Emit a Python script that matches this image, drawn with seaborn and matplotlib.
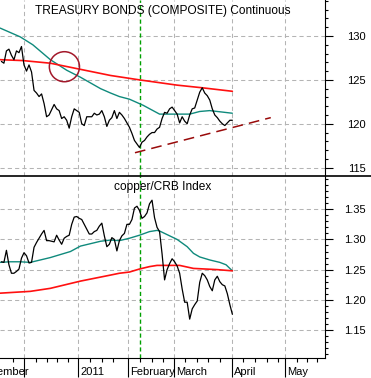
import numpy as np
import pandas as pd
import matplotlib
matplotlib.use("Agg")
import matplotlib.pyplot as plt
import seaborn as sns
from matplotlib.patches import Ellipse
from matplotlib.lines import Line2D
from matplotlib.ticker import FixedLocator, MultipleLocator, FormatStrFormatter
import matplotlib.transforms as mtransforms

# ---------------- data (x = trading-day index, 0 = 1 Dec 2010) ----------------
bond_close = [127.1, 126.9, 128.3, 128.5, 127.8, 127.3, 128.3, 128.1, 128.8,
              126.7, 126.0, 126.7, 125.9, 123.8, 123.5, 123.1, 123.4, 122.3, 120.8,
              121.0, 121.6, 122.2, 121.7, 121.5, 120.6, 120.8, 120.4, 119.5, 120.8,
              121.7, 121.5, 121.3, 120.0, 119.8, 120.8, 120.8, 120.8, 121.2, 121.0,
              121.1, 121.5, 120.8, 119.7, 120.4, 120.7, 121.5, 120.6, 121.3, 121.0,
              120.6, 120.1, 119.6, 118.9, 118.1, 117.7, 117.3, 117.9, 118.1, 118.5,
              118.8, 119.0, 119.0, 119.4, 119.6, 120.6, 121.3, 121.2, 121.7, 121.9,
              121.5, 121.1, 120.1, 120.8, 120.3, 120.0, 121.0, 121.7, 121.8, 122.7,
              123.6, 124.1, 123.5, 123.2, 122.7, 121.7, 121.0, 120.7, 120.3, 120.0,
              119.8, 120.1, 120.4, 120.4]
copper_crb = [1.263, 1.262, 1.282, 1.258, 1.244, 1.244, 1.247, 1.251, 1.269,
              1.278, 1.273, 1.261, 1.262, 1.287, 1.295, 1.302, 1.309, 1.315, 1.298,
              1.298, 1.297, 1.296, 1.307, 1.299, 1.292, 1.302, 1.305, 1.307, 1.325,
              1.337, 1.338, 1.335, 1.333, 1.325, 1.317, 1.309, 1.309, 1.313, 1.315,
              1.322, 1.327, 1.306, 1.288, 1.292, 1.303, 1.300, 1.281, 1.298, 1.306,
              1.310, 1.325, 1.325, 1.333, 1.352, 1.355, 1.348, 1.335, 1.338, 1.344,
              1.359, 1.365, 1.336, 1.320, 1.313, 1.276, 1.233, 1.250, 1.260, 1.268,
              1.263, 1.256, 1.244, 1.218, 1.196, 1.196, 1.168, 1.185, 1.192, 1.198,
              1.229, 1.244, 1.240, 1.233, 1.222, 1.215, 1.233, 1.239, 1.230, 1.225,
              1.223, 1.210, 1.192, 1.176]
first_day = -9
days = np.arange(first_day, first_day + len(bond_close))

bond_ma_short_days = [-9.5, -1.5, 3.5, 10.5, 17, 22.5, 30.5, 34.5, 38, 42, 47.5, 54, 61, 66, 70, 74, 83]
bond_ma_short = [130.9, 129.9, 129.0, 127.3, 126.1, 125.3, 124.0, 123.5, 123.1, 122.8, 122.1,
                 121.1, 121.1, 121.1, 121.4, 121.5, 121.2]
bond_ma_long_days = [-9.5, -0.5, 10.5, 22.5, 34.5, 46, 61, 71, 83]
bond_ma_long = [127.3, 127.2, 126.9, 126.2, 125.5, 125.0, 124.4, 124.1, 123.7]
bond_trend_days = [44.2, 98.3]
bond_trend = [116.7, 120.7]

cc_ma_short_days = [-9.5, -5.5, -1.5, 2.5, 6.5, 10.5, 14.5, 18.5, 22.5, 26.5, 30.5, 34.5, 38,
                    42, 46, 50, 53, 54, 57, 61, 65, 67.5, 70, 74, 78, 80.5, 83]
cc_ma_short = [1.262, 1.263, 1.263, 1.262, 1.266, 1.270, 1.275, 1.280, 1.289, 1.293, 1.297,
               1.299, 1.298, 1.302, 1.307, 1.313, 1.315, 1.314, 1.308, 1.300, 1.288, 1.277,
               1.271, 1.266, 1.262, 1.258, 1.248]
cc_ma_long_days = [-9.5, 2.5, 10.5, 22.5, 34.5, 38, 42, 46, 50, 53, 62, 67.5, 77, 83]
cc_ma_long = [1.211, 1.214, 1.219, 1.231, 1.241, 1.244, 1.246, 1.251, 1.255, 1.257, 1.257,
              1.252, 1.250, 1.248]

event_day = 46.4
month_ticks = [0, 21.5, 41.3, 59.8, 82.9, 103.9]
month_labels = ["December", "2011", "February", "March", "April", "May"]
week_ticks = [-4.3, 4.8, 9.0, 13.0, 17.6, 26.3, 31.0, 35.6, 46.2, 50.9, 55.5, 64.1, 68.8,
              73.4, 78.1, 87.3, 92.0, 96.7, 101.2, 108.6, 112.6, 116.6]
bond_yticks = [115, 120, 125, 130]
cc_yticks = [1.15, 1.20, 1.25, 1.30, 1.35]

# ---------------- style ----------------
sns.set_theme(style="white")
plt.rcParams["font.family"] = ["Liberation Sans", "DejaVu Sans"]

BLACK = "#000000"
TEAL = "#0f8a7c"
RED = "#ff1010"
DARKRED = "#990a0a"
CIRCLE = "#a3182a"
GREEN = "#00a000"
GRID = "#b4b4b4"

W, H = 371, 378
fig = plt.figure(figsize=(W / 100, H / 100), dpi=100)
fig.patch.set_facecolor("white")


def rect(x0, y0, x1, y1):
    return [x0 / W, 1 - y1 / H, (x1 - x0) / W, (y1 - y0) / H]


ax1 = fig.add_axes(rect(0, 0, 325, 176))
ax2 = fig.add_axes(rect(0, 176, 325, 358))

top = pd.DataFrame({"day": days, "close": bond_close})
bot = pd.DataFrame({"day": days, "ratio": copper_crb})

# top panel
sns.lineplot(x=bond_ma_short_days, y=bond_ma_short, ax=ax1, color=TEAL, lw=1.0, estimator=None)
sns.lineplot(x=bond_ma_long_days, y=bond_ma_long, ax=ax1, color=RED, lw=1.2, estimator=None)
sns.lineplot(data=top, x="day", y="close", ax=ax1, color=BLACK, lw=0.9, estimator=None)
sns.lineplot(x=bond_trend_days, y=bond_trend, ax=ax1, color=DARKRED, lw=1.1,
             linestyle=(0, (7, 4)), estimator=None)
ax1.add_patch(Ellipse((16.1, 126.5), 12.0, 3.42, fill=False, edgecolor=CIRCLE, lw=1.1, zorder=5))

# bottom panel
sns.lineplot(x=cc_ma_short_days, y=cc_ma_short, ax=ax2, color=TEAL, lw=1.0, estimator=None)
sns.lineplot(x=cc_ma_long_days, y=cc_ma_long, ax=ax2, color=RED, lw=1.2, estimator=None)
sns.lineplot(data=bot, x="day", y="ratio", ax=ax2, color=BLACK, lw=0.9, estimator=None)

ax1.set_ylim(114.05, 134.1)
ax2.set_ylim(1.1036, 1.4051)

for ax, yt, fmt, minor in [(ax1, bond_yticks, "%d", 1), (ax2, cc_yticks, "%.2f", 0.01)]:
    ax.set_xlim(-9.56, 119.9)
    ax.set_xlabel("")
    ax.set_ylabel("")
    ax.set_facecolor("white")
    ax.axvline(event_day, color=GREEN, lw=1.0, linestyle=(0, (3, 2)), zorder=1.5)
    ax.xaxis.set_major_locator(FixedLocator(month_ticks))
    ax.xaxis.set_minor_locator(FixedLocator(week_ticks))
    ax.yaxis.tick_right()
    ax.yaxis.set_major_locator(FixedLocator(yt))
    ax.yaxis.set_minor_locator(MultipleLocator(minor))
    ax.yaxis.set_major_formatter(FormatStrFormatter(fmt))
    ax.grid(True, which="major", color=GRID, linestyle=(0, (4, 3)), linewidth=0.75)
    ax.set_axisbelow(True)
    ax.tick_params(axis="y", which="major", right=True, left=False, length=6, width=0.8,
                   color="black", direction="out", pad=23.5, labelsize=8, labelcolor="black")
    ax.tick_params(axis="y", which="minor", right=True, left=False, length=2.4, width=0.8,
                   color="black", direction="out")
    for lbl in ax.get_yticklabels():
        lbl.set_horizontalalignment("right")
    for s in ["left", "top"]:
        ax.spines[s].set_visible(False)
    ax.spines["right"].set_color("black")
    ax.spines["right"].set_linewidth(0.8)
    leg = ax.get_legend()
    if leg is not None:
        leg.remove()

ax1.spines["bottom"].set_visible(False)
ax1.tick_params(axis="x", which="both", bottom=False, top=False, labelbottom=False, length=0)

ax2.spines["bottom"].set_color("black")
ax2.spines["bottom"].set_linewidth(0.8)
ax2.tick_params(axis="x", which="major", bottom=True, length=14, width=0.8, color="black",
                direction="out", labelbottom=False)
ax2.tick_params(axis="x", which="minor", bottom=True, length=3, width=0.8, color="black",
                direction="out")

# month labels right of the ticks
blend = mtransforms.blended_transform_factory(ax2.transData, ax2.transAxes)
for d, lab in zip(month_ticks, month_labels):
    if lab == "December":
        tr = mtransforms.offset_copy(blend, fig=fig, x=3.6, y=-12.2, units="points")
        ha = "right"
    else:
        tr = mtransforms.offset_copy(blend, fig=fig, x=1.6, y=-12.2, units="points")
        ha = "left"
    ax2.text(d, 0, lab, transform=tr, ha=ha, va="baseline", fontsize=8, color="black",
             clip_on=False)

ax1.text(0.5, 0.94, "TREASURY BONDS (COMPOSITE) Continuous", transform=ax1.transAxes,
         ha="center", va="center", fontsize=8.6, color="black")
ax2.text(0.5, 0.942, "copper/CRB Index", transform=ax2.transAxes,
         ha="center", va="center", fontsize=8.6, color="black")

# panel separator across the full width
ysep = 1 - 176 / H
fig.add_artist(Line2D([0, 1], [ysep, ysep], transform=fig.transFigure, color="black", lw=1.2))

fig.savefig("out.png", dpi=100, facecolor="white")
